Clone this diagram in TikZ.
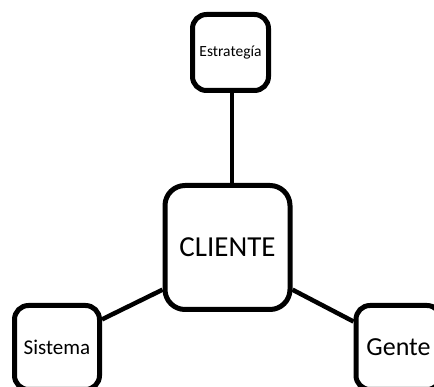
\documentclass[tikz,border=0pt]{standalone}
\usepackage{fontspec}
\setmainfont{Carlito}
\begin{document}
\begin{tikzpicture}[x=1pt,y=-1pt,
  box/.style={draw=black,line width=5pt,rounded corners=14pt,fill=white,inner sep=0pt,align=center},
  link/.style={draw=black,line width=4.5pt}]
\useasboundingbox (0,0) rectangle (434,387);
\node[box,minimum width=76pt,minimum height=76pt,font=\fontsize{15.5}{18}\selectfont] (est) at (230.5,52.5) {Estrategía};
\node[box,rounded corners=20pt,minimum width=125pt,minimum height=124pt,font=\fontsize{29}{34}\selectfont] (cli) at (227.5,247.5) {CLIENTE};
\node[box,minimum width=85pt,minimum height=84pt,font=\fontsize{21}{25}\selectfont] (sis) at (57,347.5) {Sistema};
\node[box,minimum width=85pt,minimum height=84pt,font=\fontsize{26}{31}\selectfont] (gen) at (398.5,347.5) {Gente};
\draw[link] ([xshift=1.5pt]est.south) -- ([xshift=1.5pt]est.south |- cli.north);
\draw[link] (sis.32) -- (cli.213);
\draw[link] (cli.327) -- (gen.150);
\end{tikzpicture}
\end{document}
